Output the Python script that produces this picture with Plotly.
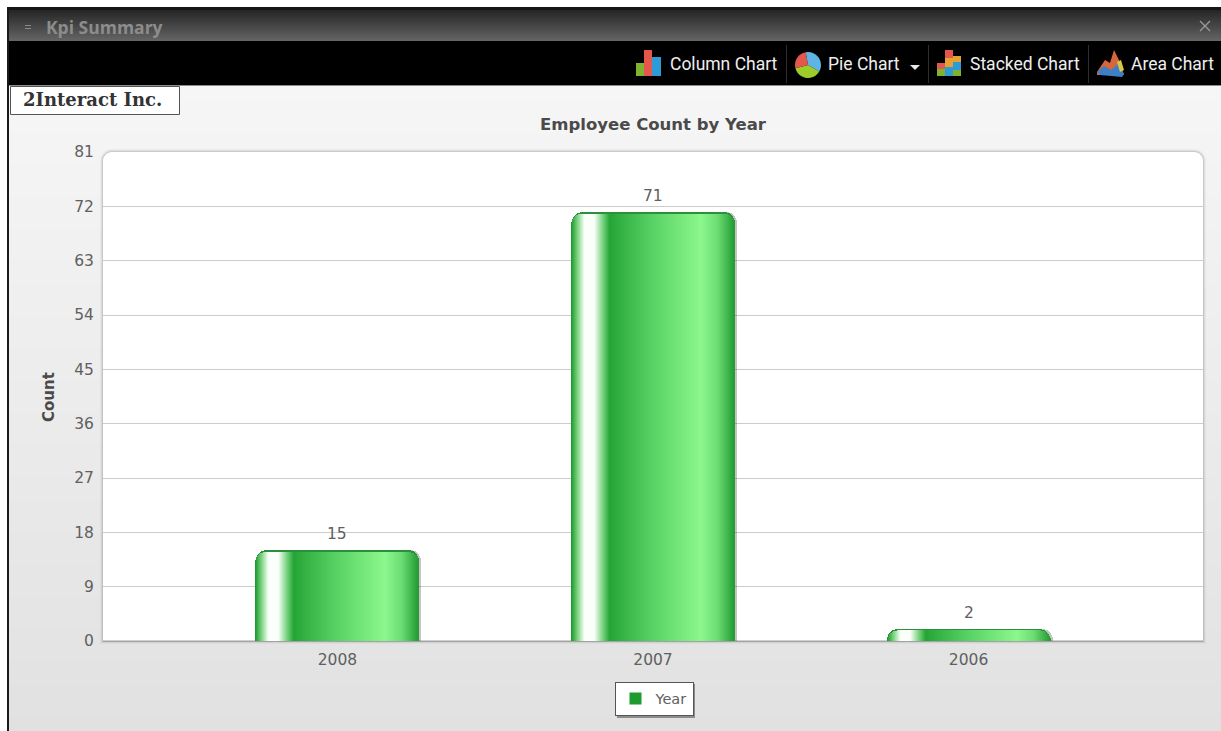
import math
import plotly.graph_objects as go

W, H = 1221, 731

# chart data
years = ["2008", "2007", "2006"]
counts = [15, 71, 2]
series_name = "Year"
y_ticks = [0, 9, 18, 27, 36, 45, 54, 63, 72, 81]
chart_title = "Employee Count by Year"
y_title = "Count"
window_title = "Kpi Summary"
company = "2Interact Inc."
toolbar_labels = ["Column Chart", "Pie Chart", "Stacked Chart", "Area Chart"]

# plot-area rectangle in pixels
PL, PR, PT, PB = 103, 1203, 152, 641
X_RANGE = (-0.743, 2.743)
Y_RANGE = (0, 81)
BAR_W_PX = 163
CORNER_PX = 11

px_per_cat = (PR - PL) / (X_RANGE[1] - X_RANGE[0])
units_per_px = (Y_RANGE[1] - Y_RANGE[0]) / (PB - PT)
bar_w = BAR_W_PX / px_per_cat


def fx(x):
    return x / W


def fy(y):
    return 1 - y / H


def rect(x0, y0, x1, y1, fill, line=None, layer="below"):
    return dict(type="rect", xref="paper", yref="paper", layer=layer,
                x0=fx(x0), x1=fx(x1), y0=fy(y0), y1=fy(y1),
                fillcolor=fill, line=dict(width=1 if line else 0, color=line or "rgba(0,0,0,0)"))


def poly(points, fill, layer="above"):
    d = "M" + " L".join(f"{fx(a):.5f},{fy(b):.5f}" for a, b in points) + " Z"
    return dict(type="path", xref="paper", yref="paper", layer=layer, path=d,
                fillcolor=fill, line=dict(width=0, color="rgba(0,0,0,0)"))


def rounded_top(x0, y0, x1, y1, r, fill, layer="below"):
    pts = []
    for i in range(9):
        a = math.pi + i / 8 * math.pi / 2
        pts.append((x0 + r + r * math.cos(a), y0 + r + r * math.sin(a)))
    for i in range(9):
        a = 1.5 * math.pi + i / 8 * math.pi / 2
        pts.append((x1 - r + r * math.cos(a), y0 + r + r * math.sin(a)))
    pts += [(x1, y1), (x0, y1)]
    return poly(pts, fill, layer)


def mix(c0, c1, t):
    return tuple(c0[i] + (c1[i] - c0[i]) * t for i in range(3))


def css(c):
    return "rgb({},{},{})".format(*(round(v) for v in c))


def ramp(stops, t):
    for (t0, c0), (t1, c1) in zip(stops, stops[1:]):
        if t <= t1:
            return mix(c0, c1, (t - t0) / (t1 - t0) if t1 > t0 else 0)
    return stops[-1][1]


def sector(cx, cy, r, a0, a1, fill):
    pts = [(cx, cy)]
    for i in range(13):
        a = math.radians(a0 + (a1 - a0) * i / 12)
        pts.append((cx + r * math.cos(a), cy + r * math.sin(a)))
    return poly(pts, fill)


shapes = []

# page background and window chrome, in whole-pixel bands
for y in range(85, H, 8):
    shapes.append(rect(9, y, W, min(y + 8, H), css(mix((246, 246, 246), (225, 225, 225), (y - 85) / (H - 85)))))
for y in range(9, 41):
    shapes.append(rect(7, y, W, y + 1, css(mix((36, 36, 36), (100, 100, 100), (y - 9) / 31))))
shapes.append(rect(7, 7, W, 10, "#161616"))
shapes.append(rect(7, 41, W, 85, "#000000"))
shapes.append(rect(7, 85, W, 86, "#8c8c8c"))
shapes.append(rect(7, 7, 9, H, "#1a1a1a"))

# company tab
shapes.append(rect(10.5, 86.5, 179.5, 114.5, "#ffffff", "#555555"))

# plot panel with soft shadow
for grow, alpha in ((3, 0.04), (2, 0.07), (1, 0.12)):
    shapes.append(rounded_top(PL - grow, PT - grow, PR + grow, PB + grow, 9 + grow,
                              f"rgba(60,60,60,{alpha})"))
shapes.append(rounded_top(PL, PT, PR, PB, 9, "#ffffff"))
shapes.append(rect(PL, PB - 0.5, PR, PB + 1, "#a2a2a2"))

# toolbar separators
for sx in (786, 928, 1088):
    shapes.append(rect(sx, 45, sx + 1, 83, "#2e2e2e", layer="above"))

# column chart icon
for x0, x1, y0, c in ((636, 644, 63, "#7fb22e"), (644, 652, 50, "#e4574c"), (652, 661, 57, "#2f9bd6")):
    shapes.append(rect(x0, y0, x1, 76, c, layer="above"))

# pie chart icon
shapes.append(sector(808, 65, 13, -100, 30, "#5fb4e6"))
shapes.append(sector(808, 65, 13, 30, 165, "#9ccc2a"))
shapes.append(sector(808, 65, 13, 165, 260, "#e4574c"))
shapes.append(poly([(910, 65), (920, 65), (915, 70)], "#e8e8e8"))

# stacked chart icon
for x0, x1, segs in ((937, 945, ((63, 69, "#e4574c"), (69, 76, "#7fb22e"))),
                     (945, 953, ((50, 58, "#e4574c"), (58, 67, "#e8a030"), (67, 76, "#2f9bd6"))),
                     (953, 961, ((56, 62, "#e8a030"), (62, 70, "#2f9bd6"), (70, 76, "#7fb22e")))):
    for y0, y1, c in segs:
        shapes.append(rect(x0, y0, x1, y1, c, layer="above"))

# area chart icon
shapes.append(poly([(1097, 72), (1105, 60), (1110, 63), (1114, 50), (1120, 62), (1124, 75), (1097, 75)], "#d9663a"))
shapes.append(poly([(1097, 72), (1104, 66), (1111, 70), (1118, 64), (1124, 74), (1122, 77), (1100, 75)], "#3d7fc4"))
shapes.append(poly([(1117, 62), (1121, 60), (1124, 70), (1120, 72)], "#d8c848"))

# window close cross
for sign in (1, -1):
    cx, cy = 1205, 26
    d = 5
    shapes.append(dict(type="line", xref="paper", yref="paper", layer="above",
                       x0=fx(cx - d), x1=fx(cx + d), y0=fy(cy - sign * d), y1=fy(cy + sign * d),
                       line=dict(color="#9a9a9a", width=1.2)))

# window menu glyph
for gy in (25, 28):
    shapes.append(rect(25, gy, 31, gy + 1, "#8a8a8a", layer="above"))

# legend drop shadow
shapes.append(rect(617, 684, 695, 718, "rgba(70,70,70,0.55)", layer="below"))

# horizontal shading across each column; the first stop also sets the legend swatch
bar_stops = [
    (0.00, (31, 154, 47)), (0.04, (130, 215, 135)), (0.08, (250, 255, 250)), (0.14, (250, 255, 250)),
    (0.20, (105, 205, 115)), (0.235, (38, 165, 55)), (0.50, (88, 210, 100)), (0.80, (140, 247, 140)),
    (0.90, (108, 222, 116)), (1.00, (38, 158, 52)),
]

strip_x, strip_y, strip_c = [], [], []
STRIPS = BAR_W_PX
strip_w = bar_w / STRIPS
inner_r = CORNER_PX
for i, v in enumerate(counts):
    top = v - 1.5 * units_per_px
    for s in range(STRIPS):
        t = s / (STRIPS - 1)
        d_px = min(s + 0.5, STRIPS - s - 0.5)
        drop = 0.0
        if d_px < inner_r:
            drop = inner_r * (1 - math.sqrt(1 - ((inner_r - d_px) / inner_r) ** 2))
        strip_x.append(i - bar_w / 2 + (s + 0.5) * strip_w)
        strip_y.append(max(top - drop * units_per_px, 0))
        strip_c.append(css(ramp(bar_stops, t)))

fig = go.Figure()

# shadow cast to the right of each column
fig.add_trace(go.Bar(
    x=[i + 2.5 / px_per_cat for i in range(len(years))], y=counts, width=bar_w,
    marker=dict(color="rgba(70,70,70,0.32)", cornerradius=CORNER_PX, line=dict(width=0)),
    showlegend=False, hoverinfo="skip",
))
# dark rim around each column
fig.add_trace(go.Bar(
    x=list(range(len(years))), y=counts, width=bar_w,
    marker=dict(color="#2b8f3c", cornerradius=CORNER_PX, line=dict(width=0)),
    showlegend=False, hoverinfo="skip",
))
# glossy column body, one narrow strip per pixel column
fig.add_trace(go.Bar(
    x=strip_x, y=strip_y, width=strip_w, name=series_name, showlegend=True,
    marker=dict(color=strip_c, line=dict(width=0)), hoverinfo="skip",
))


def note(text, x, y, size, color, family, bold=False, anchor="center", angle=0):
    return dict(text=f"<b>{text}</b>" if bold else text, x=fx(x), y=fy(y), xref="paper", yref="paper",
                xanchor=anchor, yanchor="middle", showarrow=False, textangle=angle,
                font=dict(size=size, color=color, family=family))


annotations = [
    note(window_title, 44, 27, 17.5, "#8c8c8c", "Open Sans", True, "left"),
    note(company, 21, 100, 18, "#333333", "DejaVu Serif", True, "left"),
    note(chart_title, 653, 124, 16.5, "#4a4a4a", "DejaVu Sans", True),
    note(y_title, 49, 397, 15, "#4a4a4a", "DejaVu Sans", True, angle=-90),
    note(toolbar_labels[0], 668, 64, 17.5, "#eeeeee", "Roboto", False, "left"),
    note(toolbar_labels[1], 826, 64, 17.5, "#eeeeee", "Roboto", False, "left"),
    note(toolbar_labels[2], 968, 64, 17.5, "#eeeeee", "Roboto", False, "left"),
    note(toolbar_labels[3], 1129, 64, 17.5, "#eeeeee", "Roboto", False, "left"),
]

# value labels sit above each column, positioned from the data
for i, v in enumerate(counts):
    annotations.append(dict(
        x=i, y=v, xref="x", yref="y", text=str(v), showarrow=False, yanchor="middle", yshift=16,
        font=dict(family="DejaVu Sans", size=15.5, color="#606060"),
    ))

fig.update_layout(
    width=W, height=H, autosize=False,
    margin=dict(l=0, r=0, t=0, b=0, pad=0, autoexpand=False),
    paper_bgcolor="#ffffff", plot_bgcolor="rgba(0,0,0,0)",
    barmode="overlay", bargap=0,
    shapes=shapes, annotations=annotations,
    font=dict(family="DejaVu Sans", color="#606060", size=13),
    xaxis=dict(
        domain=[fx(PL), fx(PR)], range=list(X_RANGE), tickmode="array",
        tickvals=list(range(len(years))), ticktext=years, showgrid=False, zeroline=False,
        ticks="outside", ticklen=4, tickcolor="rgba(0,0,0,0)", showline=False,
        tickfont=dict(size=15.5, color="#606060"),
    ),
    yaxis=dict(
        domain=[fy(PB), fy(PT)], range=list(Y_RANGE), tickmode="array", tickvals=y_ticks,
        showgrid=True, gridcolor="#cbcbcb", gridwidth=1, zeroline=False, showline=False,
        ticks="outside", ticklen=5, tickcolor="rgba(0,0,0,0)",
        tickfont=dict(size=15.5, color="#606060"),
    ),
    legend=dict(
        x=fx(654), y=fy(698.5), xanchor="center", yanchor="middle", orientation="h",
        bgcolor="#ffffff", bordercolor="#555555", borderwidth=1,
        font=dict(size=14.5, color="#606060", family="DejaVu Sans"), itemwidth=30,
    ),
)

fig.write_html("out.html", config=dict(displayModeBar=False))
